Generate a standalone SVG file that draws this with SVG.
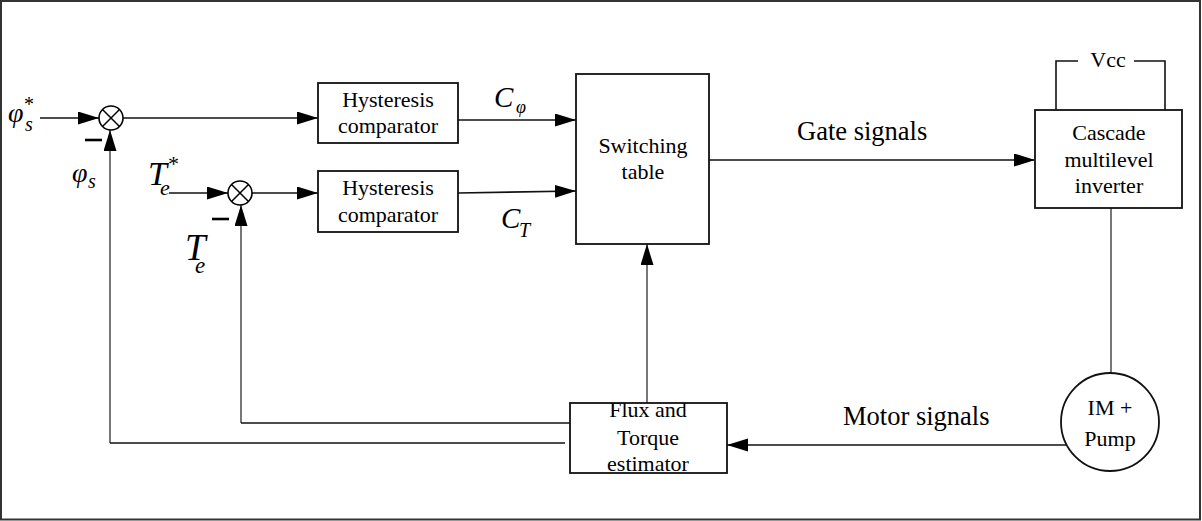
<svg xmlns="http://www.w3.org/2000/svg" width="1202" height="521" viewBox="0 0 1202 521" font-family="Liberation Serif, Times New Roman, serif">
<style>
.lbl{font-size:22px;text-anchor:middle}
.big{font-size:26.5px}
.it{font-style:italic}
.box{fill:#fff;stroke:#111;stroke-width:1.8}
.ln{fill:none;stroke:#111;stroke-width:1.6}
.gl{fill:none;stroke:#555;stroke-width:1.6}
.minus{stroke:#000;stroke-width:2.6}
</style>
<defs>
<marker id="ah" markerUnits="userSpaceOnUse" markerWidth="22" markerHeight="14" refX="21" refY="6.5" orient="auto">
<path d="M0,0 L21,6.5 L0,13 z" fill="#000"/>
</marker>
</defs>
<rect x="1" y="1" width="1199" height="518.5" fill="#fff" stroke="#333" stroke-width="2"/>

<g id="connectors">
<line class="ln" x1="40" y1="118" x2="99" y2="118" marker-end="url(#ah)"/>
<line class="ln" x1="123" y1="118" x2="318" y2="118" marker-end="url(#ah)"/>
<line class="ln" x1="169" y1="193" x2="228" y2="193" marker-end="url(#ah)"/>
<line class="ln" x1="252" y1="193" x2="318" y2="193" marker-end="url(#ah)"/>
<line class="ln" x1="458" y1="120" x2="576" y2="120" marker-end="url(#ah)"/>
<line class="ln" x1="458" y1="193" x2="576" y2="191" marker-end="url(#ah)"/>
<line class="ln" x1="709" y1="160" x2="1035" y2="160" marker-end="url(#ah)"/>
<line class="gl" x1="1111" y1="208" x2="1111" y2="373"/>
<line class="ln" x1="1067" y1="445" x2="727" y2="445" marker-end="url(#ah)"/>
<line class="gl" x1="647" y1="403" x2="647" y2="244" marker-end="url(#ah)"/>
<line class="gl" x1="241" y1="423" x2="241" y2="205" marker-end="url(#ah)"/>
<line class="ln" x1="570" y1="423" x2="241" y2="423"/>
<line class="gl" x1="110" y1="443" x2="110" y2="130" marker-end="url(#ah)"/>
<line class="ln" x1="565" y1="443" x2="110" y2="443"/>
<polyline class="ln" points="1056,110 1056,61 1078,61"/>
<polyline class="ln" points="1134,61 1165,61 1165,110"/>
<line class="minus" x1="85" y1="140" x2="102" y2="140"/>
<line class="minus" x1="212" y1="219" x2="229" y2="219"/>
</g>

<g id="sum1">
<circle cx="111" cy="118" r="12" fill="#fff" stroke="#000" stroke-width="1.6"/>
<path d="M102.5,109.5 L119.5,126.5 M119.5,109.5 L102.5,126.5" stroke="#000" stroke-width="1.5"/>
</g>
<g id="sum2">
<circle cx="240" cy="193" r="12" fill="#fff" stroke="#000" stroke-width="1.6"/>
<path d="M231.5,184.5 L248.5,201.5 M248.5,184.5 L231.5,201.5" stroke="#000" stroke-width="1.5"/>
</g>

<g id="labels">
<text class="it" x="8" y="122" font-size="28">φ</text>
<text class="it" x="25" y="131" font-size="20">s</text>
<text x="24" y="111" font-size="20">*</text>
<text class="it" x="72" y="182" font-size="28">φ</text>
<text class="it" x="88" y="188" font-size="20">s</text>
<text class="it" x="148" y="185" font-size="34">T</text>
<text class="it" x="160" y="195" font-size="22">e</text>
<text x="168" y="171" font-size="22">*</text>
<text class="it" x="185" y="260" font-size="37">T</text>
<text class="it" x="195" y="273" font-size="23">e</text>
<text class="it" x="494" y="107" font-size="29">C</text>
<text class="it" x="516" y="113" font-size="18">φ</text>
<text class="it" x="501" y="228" font-size="29">C</text>
<text class="it" x="519" y="237" font-size="20">T</text>
<text class="big" x="797" y="140">Gate signals</text>
<text class="big" x="843" y="425">Motor signals</text>
</g>

<g id="hyst1">
<rect class="box" x="318" y="83" width="140" height="60"/>
<text class="lbl" x="388" y="107">Hysteresis</text>
<text class="lbl" x="388" y="133">comparator</text>
</g>
<g id="hyst2">
<rect class="box" x="318" y="171" width="140" height="61"/>
<text class="lbl" x="388" y="195">Hysteresis</text>
<text class="lbl" x="388" y="222">comparator</text>
</g>
<g id="switching">
<rect class="box" x="576" y="74" width="133" height="170"/>
<text class="lbl" x="643" y="153">Switching</text>
<text class="lbl" x="643" y="179">table</text>
</g>
<g id="inverter">
<rect class="box" x="1035" y="110" width="147" height="98"/>
<text class="lbl" x="1109" y="140" font-size="23">Cascade</text>
<text class="lbl" x="1109" y="167" font-size="23">multilevel</text>
<text class="lbl" x="1109" y="193" font-size="23">inverter</text>
</g>
<g id="vcc">
<text class="lbl" x="1108" y="67">Vcc</text>
</g>
<g id="motor">
<circle cx="1110" cy="422" r="49" fill="#fff" stroke="#111" stroke-width="1.8"/>
<text class="lbl" x="1110" y="415" font-size="26">IM +</text>
<text class="lbl" x="1110" y="446" font-size="26">Pump</text>
</g>
<g id="estimator">
<text class="lbl" x="648" y="417">Flux and</text>
<rect x="570" y="403" width="157" height="70" fill="none" stroke="#111" stroke-width="1.8"/>
<text class="lbl" x="648" y="445">Torque</text>
<text class="lbl" x="648" y="471">estimator</text>
</g>
</svg>
